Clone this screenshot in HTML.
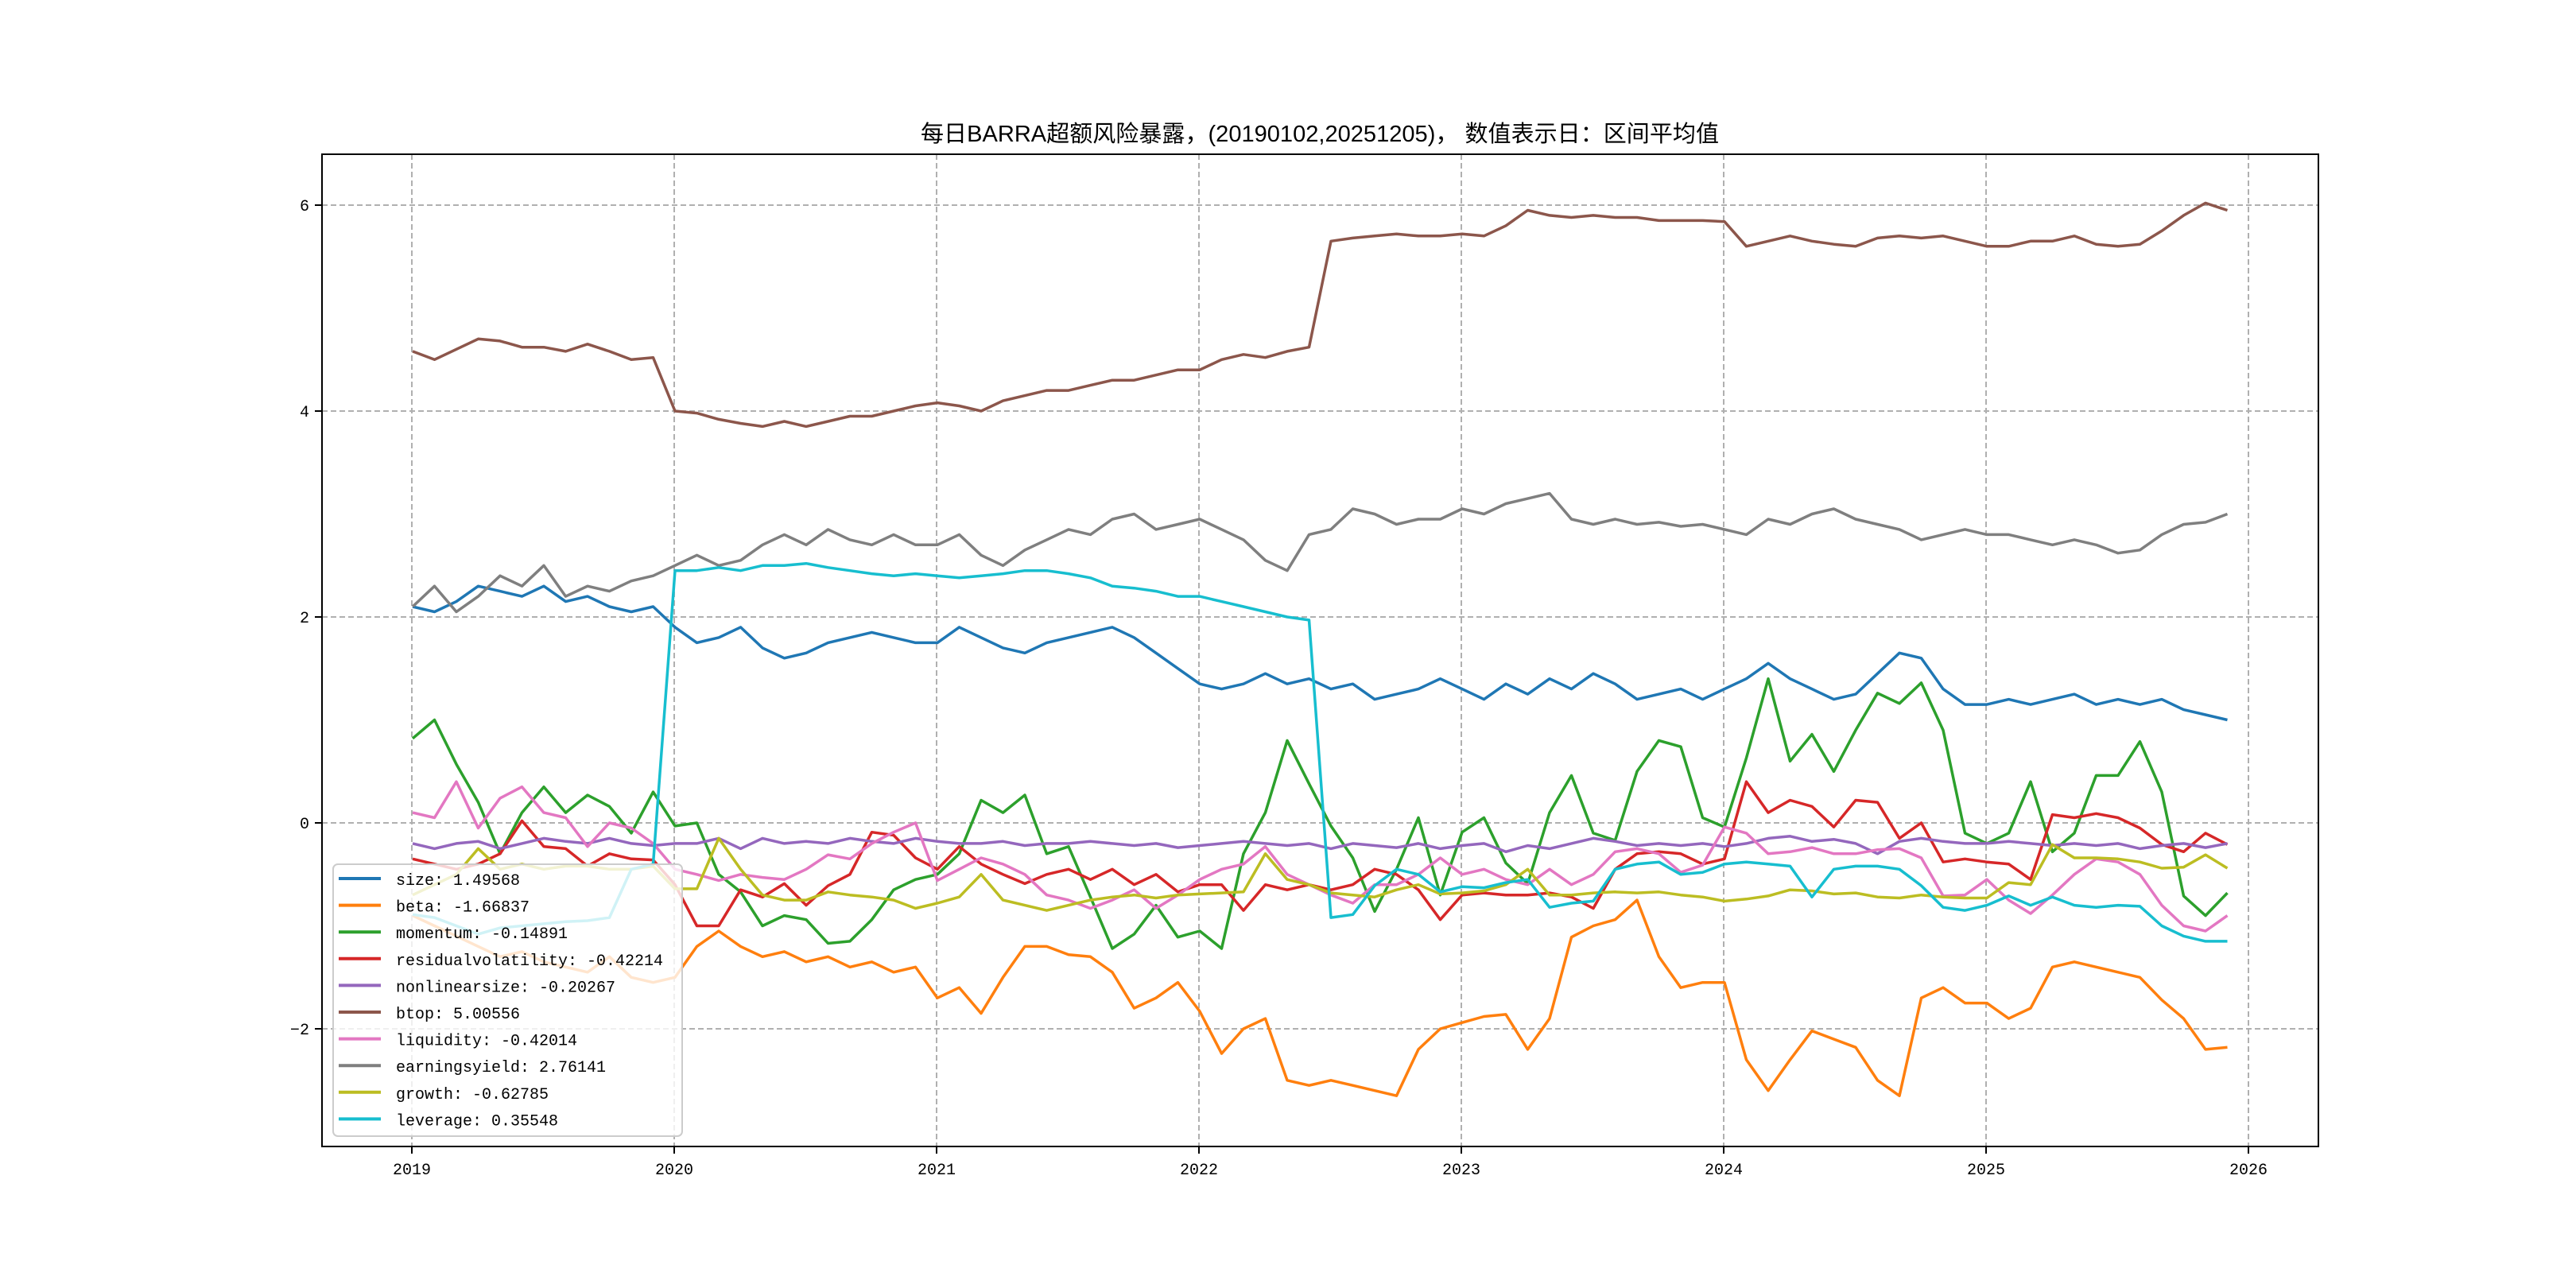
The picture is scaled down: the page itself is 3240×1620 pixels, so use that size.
<!DOCTYPE html>
<html><head><meta charset="utf-8"><style>
html,body{margin:0;padding:0;background:#fff;}
svg{display:block;}
</style></head><body>
<svg id="chart" width="3240" height="1620" viewBox="0 0 3240 1620" xmlns="http://www.w3.org/2000/svg">
<rect x="0" y="0" width="3240" height="1620" fill="#fff"/>
<text x="1660" y="178" text-anchor="middle" font-family="'Liberation Sans','Noto Sans CJK SC',sans-serif" font-size="29" textLength="1004" lengthAdjust="spacingAndGlyphs">每日BARRA超额风险暴露，(20190102,20251205)， 数值表示日：区间平均值</text>
<g id="grid"></g>
<g id="series"></g>
<rect x="405" y="194" width="2511" height="1248" fill="none" stroke="#000" stroke-width="2"/>
<g id="ticks"></g>
<g id="legend"></g>
</svg>
<script>
const yearTicks = [2019,2020,2021,2022,2023,2024,2025,2026];
const yTicks = [-2,0,2,4,6];
const seriesNames = ['size','beta','momentum','residualvolatility','nonlinearsize','btop','liquidity','earningsyield','growth','leverage'];
const legendValues = ['1.49568','-1.66837','-0.14891','-0.42214','-0.20267','5.00556','-0.42014','2.76141','-0.62785','0.35548'];
const colors = ['#1f77b4','#ff7f0e','#2ca02c','#d62728','#9467bd','#8c564b','#e377c2','#7f7f7f','#bcbd22','#17becf'];
const sizeVals = [2.1,2.05,2.15,2.3,2.25,2.2,2.3,2.15,2.2,2.1,2.05,2.1,
1.9,1.75,1.8,1.9,1.7,1.6,1.65,1.75,1.8,1.85,1.8,1.75,
1.75,1.9,1.8,1.7,1.65,1.75,1.8,1.85,1.9,1.8,1.65,1.5,
1.35,1.3,1.35,1.45,1.35,1.4,1.3,1.35,1.2,1.25,1.3,1.4,
1.3,1.2,1.35,1.25,1.4,1.3,1.45,1.35,1.2,1.25,1.3,1.2,
1.3,1.4,1.55,1.4,1.3,1.2,1.25,1.45,1.65,1.6,1.3,1.15,
1.15,1.2,1.15,1.2,1.25,1.15,1.2,1.15,1.2,1.1,1.05,1.0];
const betaVals = [-0.9,-1.0,-1.1,-1.2,-1.3,-1.25,-1.35,-1.4,-1.45,-1.3,-1.5,-1.55,
-1.5,-1.2,-1.05,-1.2,-1.3,-1.25,-1.35,-1.3,-1.4,-1.35,-1.45,-1.4,
-1.7,-1.6,-1.85,-1.5,-1.2,-1.2,-1.28,-1.3,-1.45,-1.8,-1.7,-1.55,
-1.83,-2.24,-2.0,-1.9,-2.5,-2.55,-2.5,-2.55,-2.6,-2.65,-2.2,-2.0,
-1.94,-1.88,-1.86,-2.2,-1.9,-1.11,-1.0,-0.94,-0.75,-1.3,-1.6,-1.55,
-1.55,-2.3,-2.6,-2.3,-2.02,-2.1,-2.18,-2.5,-2.65,-1.7,-1.6,-1.75,
-1.75,-1.9,-1.8,-1.4,-1.35,-1.4,-1.45,-1.5,-1.72,-1.9,-2.2,-2.18];
const momentumVals = [0.82,1.0,0.57,0.2,-0.3,0.1,0.35,0.1,0.27,0.16,-0.1,0.3,
-0.03,0.0,-0.5,-0.67,-1.0,-0.9,-0.94,-1.17,-1.15,-0.94,-0.65,-0.55,
-0.5,-0.3,0.22,0.1,0.27,-0.3,-0.23,-0.72,-1.22,-1.08,-0.8,-1.11,
-1.05,-1.22,-0.3,0.1,0.8,0.38,-0.03,-0.34,-0.86,-0.45,0.05,-0.7,
-0.09,0.05,-0.39,-0.59,0.1,0.46,-0.1,-0.17,0.5,0.8,0.74,0.05,
-0.04,0.63,1.4,0.6,0.86,0.5,0.9,1.26,1.16,1.36,0.9,-0.1,
-0.2,-0.1,0.4,-0.28,-0.1,0.46,0.46,0.79,0.3,-0.71,-0.9,-0.68];
const resvolVals = [-0.35,-0.4,-0.45,-0.4,-0.3,0.02,-0.23,-0.25,-0.42,-0.3,-0.35,-0.36,
-0.6,-1.0,-1.0,-0.65,-0.72,-0.59,-0.8,-0.61,-0.5,-0.09,-0.12,-0.34,
-0.45,-0.23,-0.4,-0.5,-0.59,-0.5,-0.45,-0.55,-0.45,-0.6,-0.5,-0.67,
-0.6,-0.6,-0.85,-0.6,-0.65,-0.6,-0.65,-0.6,-0.45,-0.5,-0.65,-0.94,
-0.7,-0.68,-0.7,-0.7,-0.68,-0.72,-0.83,-0.45,-0.3,-0.28,-0.3,-0.4,
-0.35,0.4,0.1,0.22,0.16,-0.04,0.22,0.2,-0.15,0.0,-0.38,-0.35,
-0.38,-0.4,-0.55,0.08,0.05,0.09,0.05,-0.05,-0.21,-0.28,-0.1,-0.21];
const nlsizeVals = [-0.2,-0.25,-0.2,-0.18,-0.25,-0.2,-0.15,-0.18,-0.2,-0.15,-0.2,-0.22,
-0.2,-0.2,-0.15,-0.25,-0.15,-0.2,-0.18,-0.2,-0.15,-0.18,-0.2,-0.15,
-0.18,-0.2,-0.2,-0.18,-0.22,-0.2,-0.2,-0.18,-0.2,-0.22,-0.2,-0.24,
-0.22,-0.2,-0.18,-0.2,-0.22,-0.2,-0.25,-0.2,-0.22,-0.24,-0.2,-0.25,
-0.22,-0.2,-0.28,-0.22,-0.25,-0.2,-0.15,-0.18,-0.22,-0.2,-0.22,-0.2,
-0.23,-0.2,-0.15,-0.13,-0.18,-0.16,-0.2,-0.3,-0.18,-0.15,-0.18,-0.2,
-0.2,-0.18,-0.2,-0.22,-0.2,-0.22,-0.2,-0.25,-0.22,-0.2,-0.24,-0.2];
const btopVals = [4.58,4.5,4.6,4.7,4.68,4.62,4.62,4.58,4.65,4.58,4.5,4.52,
4.0,3.98,3.92,3.88,3.85,3.9,3.85,3.9,3.95,3.95,4.0,4.05,
4.08,4.05,4.0,4.1,4.15,4.2,4.2,4.25,4.3,4.3,4.35,4.4,
4.4,4.5,4.55,4.52,4.58,4.62,5.65,5.68,5.7,5.72,5.7,5.7,
5.72,5.7,5.8,5.95,5.9,5.88,5.9,5.88,5.88,5.85,5.85,5.85,
5.84,5.6,5.65,5.7,5.65,5.62,5.6,5.68,5.7,5.68,5.7,5.65,
5.6,5.6,5.65,5.65,5.7,5.62,5.6,5.62,5.75,5.9,6.02,5.95];
const liquidityVals = [0.1,0.05,0.4,-0.05,0.24,0.35,0.1,0.05,-0.23,0.0,-0.05,-0.2,
-0.45,-0.5,-0.56,-0.5,-0.53,-0.55,-0.45,-0.31,-0.35,-0.2,-0.09,0.0,
-0.56,-0.45,-0.34,-0.4,-0.5,-0.7,-0.75,-0.83,-0.75,-0.65,-0.83,-0.7,
-0.55,-0.45,-0.4,-0.23,-0.5,-0.6,-0.7,-0.78,-0.6,-0.6,-0.5,-0.34,
-0.5,-0.45,-0.55,-0.6,-0.45,-0.6,-0.5,-0.28,-0.25,-0.3,-0.48,-0.41,
-0.04,-0.1,-0.3,-0.28,-0.24,-0.3,-0.3,-0.26,-0.25,-0.34,-0.71,-0.7,
-0.55,-0.75,-0.88,-0.7,-0.5,-0.35,-0.38,-0.5,-0.8,-1.0,-1.05,-0.9];
const eyieldVals = [2.1,2.3,2.05,2.2,2.4,2.3,2.5,2.2,2.3,2.25,2.35,2.4,
2.5,2.6,2.5,2.55,2.7,2.8,2.7,2.85,2.75,2.7,2.8,2.7,
2.7,2.8,2.6,2.5,2.65,2.75,2.85,2.8,2.95,3.0,2.85,2.9,
2.95,2.85,2.75,2.55,2.45,2.8,2.85,3.05,3.0,2.9,2.95,2.95,
3.05,3.0,3.1,3.15,3.2,2.95,2.9,2.95,2.9,2.92,2.88,2.9,
2.85,2.8,2.95,2.9,3.0,3.05,2.95,2.9,2.85,2.75,2.8,2.85,
2.8,2.8,2.75,2.7,2.75,2.7,2.62,2.65,2.8,2.9,2.92,3.0];
const growthVals = [-0.7,-0.6,-0.5,-0.25,-0.45,-0.4,-0.45,-0.42,-0.42,-0.45,-0.45,-0.42,
-0.64,-0.64,-0.15,-0.45,-0.7,-0.75,-0.75,-0.67,-0.7,-0.72,-0.75,-0.83,
-0.78,-0.72,-0.5,-0.75,-0.8,-0.85,-0.8,-0.75,-0.72,-0.7,-0.73,-0.7,
-0.69,-0.68,-0.67,-0.3,-0.55,-0.6,-0.68,-0.7,-0.72,-0.65,-0.6,-0.69,
-0.68,-0.66,-0.6,-0.45,-0.7,-0.7,-0.68,-0.67,-0.68,-0.67,-0.7,-0.72,
-0.76,-0.74,-0.71,-0.65,-0.66,-0.69,-0.68,-0.72,-0.73,-0.7,-0.72,-0.73,
-0.73,-0.58,-0.6,-0.21,-0.34,-0.34,-0.35,-0.38,-0.44,-0.43,-0.31,-0.44];
const leverageVals = [-0.89,-0.92,-1.0,-1.08,-1.02,-1.0,-0.98,-0.96,-0.95,-0.92,-0.45,-0.4,
2.45,2.45,2.48,2.45,2.5,2.5,2.52,2.48,2.45,2.42,2.4,2.42,
2.4,2.38,2.4,2.42,2.45,2.45,2.42,2.38,2.3,2.28,2.25,2.2,
2.2,2.15,2.1,2.05,2.0,1.97,-0.92,-0.89,-0.61,-0.45,-0.5,-0.67,
-0.62,-0.63,-0.58,-0.55,-0.82,-0.78,-0.76,-0.45,-0.4,-0.38,-0.5,-0.48,
-0.4,-0.38,-0.4,-0.42,-0.72,-0.45,-0.42,-0.42,-0.45,-0.61,-0.82,-0.85,
-0.8,-0.71,-0.8,-0.72,-0.8,-0.82,-0.8,-0.81,-1.0,-1.1,-1.15,-1.15];
const allSeries = [sizeVals,betaVals,momentumVals,resvolVals,nlsizeVals,btopVals,liquidityVals,eyieldVals,growthVals,leverageVals];

const NS = 'http://www.w3.org/2000/svg';
const L=405,R=2916,T=194,B=1442;
function xScale(yr){ return 518 + (yr-2019)*330; }
function yScale(v){ return 258 + (6-v)*129.5; }
function dateOf(i){ return 2019 + i/12 + 0.003; }
function mk(tag, attrs, parent){ const e=document.createElementNS(NS,tag); for(const k in attrs) e.setAttribute(k,attrs[k]); parent.appendChild(e); return e; }

const grid=document.getElementById('grid'), ticks=document.getElementById('ticks'), sg=document.getElementById('series'), lg=document.getElementById('legend');
yearTicks.forEach(yr=>{
  const x=xScale(yr);
  const g=mk('line',{x1:x,x2:x,y1:T,y2:B,stroke:'#b0b0b0','stroke-width':2,'stroke-dasharray':'7,4'},grid);
  
  
  const t=mk('line',{x1:x,x2:x,y1:B,y2:B+9,stroke:'#000','stroke-width':2},ticks);
  
  
  const lab=mk('text',{x:x,y:B+35,'text-anchor':'middle','font-family':"'Liberation Mono',monospace",'font-size':20},ticks);
  lab.textContent=yr;
  
  
});
yTicks.forEach(v=>{
  const y=yScale(v);
  const g=mk('line',{x1:L,x2:R,y1:y,y2:y,stroke:'#b0b0b0','stroke-width':2,'stroke-dasharray':'7,4'},grid);
  
  
  const t=mk('line',{x1:L-9,x2:L,y1:y,y2:y,stroke:'#000','stroke-width':2},ticks);
  
  
  const lab=mk('text',{x:L-16,y:y+7,'text-anchor':'end','font-family':"'Liberation Mono',monospace",'font-size':20},ticks);
  lab.textContent=(v<0?'\u2212':'')+Math.abs(v);
  
  
});
allSeries.forEach((vals,si)=>{
  const pts=vals.map((v,i)=>xScale(dateOf(i)).toFixed(1)+','+yScale(v).toFixed(1)).join(' ');
  const p=mk('polyline',{points:pts,fill:'none',stroke:colors[si],'stroke-width':3.5,'stroke-linejoin':'round'},sg);
  
  
});
const box=mk('rect',{x:419,y:1087,width:439,height:342,rx:6,fill:'#fff','fill-opacity':0.8,stroke:'#cccccc','stroke-width':2},lg);


seriesNames.forEach((n,i)=>{
  const y=1105+i*33.6;
  const ln=mk('line',{x1:426,x2:479,y1:y,y2:y,stroke:colors[i],'stroke-width':4},lg);
  
  
  const tx=mk('text',{x:498,y:y+8,'font-family':"'Liberation Mono',monospace",'font-size':20},lg);
  tx.textContent=n+': '+legendValues[i];
  
  
});
</script>
</body></html>
